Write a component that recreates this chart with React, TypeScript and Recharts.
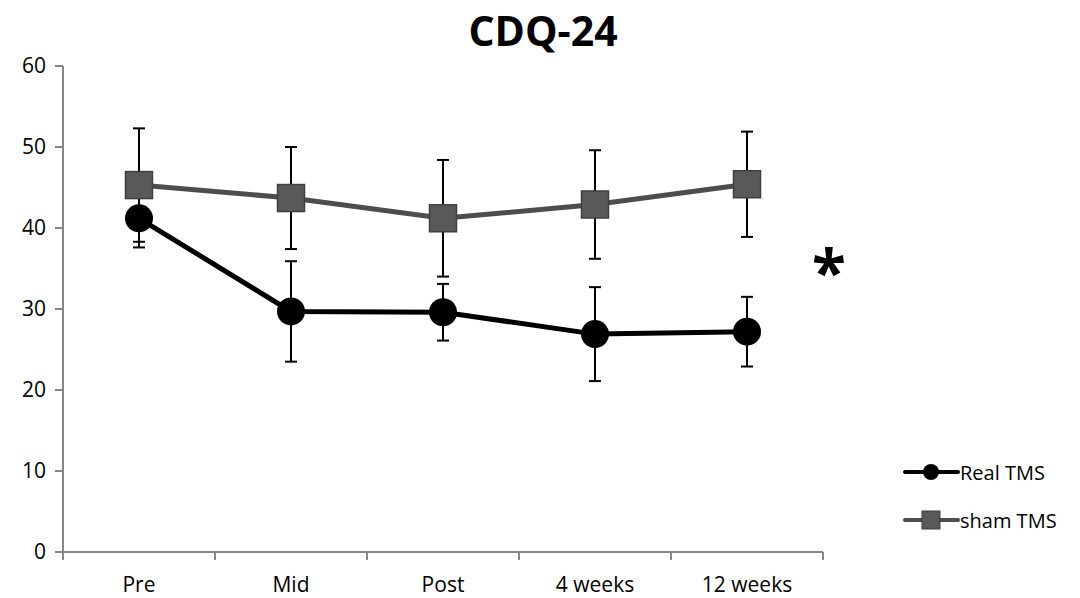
import { LineChart, Line, XAxis, YAxis, ErrorBar } from "recharts";

// categories and values
const timepoints = ["Pre", "Mid", "Post", "4 weeks", "12 weeks"];
const realTms = [41.2, 29.7, 29.6, 26.9, 27.2];
const realErr = [3.6, 6.2, 3.5, 5.8, 4.3];
const shamTms = [45.3, 43.7, 41.2, 42.9, 45.4];
const shamErr = [7.0, 6.3, 7.2, 6.7, 6.5];
const yTicks = [0, 10, 20, 30, 40, 50, 60];
const bandEdges = [0, 1, 2, 3, 4, 5];

// pos = centre of each category band on a 0..5 numeric axis
const data = timepoints.map((t, i) => ({
  t,
  pos: i + 0.5,
  real: realTms[i],
  realErr: realErr[i],
  sham: shamTms[i],
  shamErr: shamErr[i],
}));

const font = "'Open Sans', sans-serif";
const axisGray = "#868686";

const SquareDot = (props: any) => {
  const { cx, cy } = props;
  if (cx == null || cy == null) return null;
  return <rect x={cx - 13.5} y={cy - 13.5} width={27} height={27} fill="#595959" stroke="#404040" strokeWidth={1.5} />;
};

const CircleDot = (props: any) => {
  const { cx, cy } = props;
  if (cx == null || cy == null) return null;
  return <circle cx={cx} cy={cy} r={14} fill="#000" />;
};

// the boundary axis only needs its tick lines, no labels
const NoLabel = () => <g />;

const LegendBox = () => (
  <div style={{ position: "absolute", left: 903, top: 457, fontFamily: font, fontSize: 20, color: "#000" }}>
    <div style={{ display: "flex", alignItems: "center", height: 30, marginBottom: 18 }}>
      <svg width={57} height={30}>
        <line x1={2} y1={15} x2={55} y2={15} stroke="#000" strokeWidth={4} strokeLinecap="round" />
        <circle cx={28} cy={15} r={8} fill="#000" />
      </svg>
      <span>Real TMS</span>
    </div>
    <div style={{ display: "flex", alignItems: "center", height: 30 }}>
      <svg width={57} height={30}>
        <line x1={2} y1={15} x2={55} y2={15} stroke="#4d4d4d" strokeWidth={4} strokeLinecap="round" />
        <rect x={19} y={6} width={18} height={18} fill="#595959" stroke="#404040" strokeWidth={1} />
      </svg>
      <span>sham TMS</span>
    </div>
  </div>
);

export default function App() {
  return (
    <div style={{ position: "absolute", left: 0, top: 0, width: 1080, height: 598, background: "#fff" }}>
      <div
        style={{
          position: "absolute",
          left: 0,
          width: 1086,
          top: 2,
          textAlign: "center",
          fontFamily: font,
          fontWeight: 700,
          fontSize: 41,
          color: "#000",
        }}
      >
        CDQ-24
      </div>
      <div
        style={{
          position: "absolute",
          left: 812,
          top: 240,
          fontFamily: font,
          fontWeight: 700,
          fontSize: 62,
          color: "#000",
          lineHeight: 1,
        }}
      >
        *
      </div>
      <LegendBox />
      <LineChart width={1080} height={598} data={data} margin={{ top: 66, right: 257, bottom: 0, left: 0 }}>
        <XAxis
          type="number"
          dataKey="pos"
          domain={[0, 5]}
          ticks={bandEdges}
          tick={<NoLabel />}
          height={1}
          stroke={axisGray}
          strokeWidth={2}
          tickSize={8}
        />
        <XAxis
          xAxisId="labels"
          dataKey="t"
          type="category"
          scale="band"
          height={45}
          axisLine={false}
          tickLine={false}
          tickMargin={18}
          tick={{ fill: "#000", fontFamily: font, fontSize: 21 }}
          interval={0}
        />
        <YAxis
          domain={[0, 60]}
          ticks={yTicks}
          width={63}
          stroke={axisGray}
          strokeWidth={2}
          tickSize={8}
          tickMargin={9}
          tick={{ fill: "#000", fontFamily: font, fontSize: 21 }}
        />
        <Line
          dataKey="sham"
          stroke="#4d4d4d"
          strokeWidth={5}
          dot={<SquareDot />}
          activeDot={false}
          isAnimationActive={false}
        >
          <ErrorBar dataKey="shamErr" width={6} stroke="#000" strokeWidth={2} direction="y" />
        </Line>
        <Line
          dataKey="real"
          stroke="#000"
          strokeWidth={5}
          dot={<CircleDot />}
          activeDot={false}
          isAnimationActive={false}
        >
          <ErrorBar dataKey="realErr" width={6} stroke="#000" strokeWidth={2} direction="y" />
        </Line>
      </LineChart>
    </div>
  );
}
